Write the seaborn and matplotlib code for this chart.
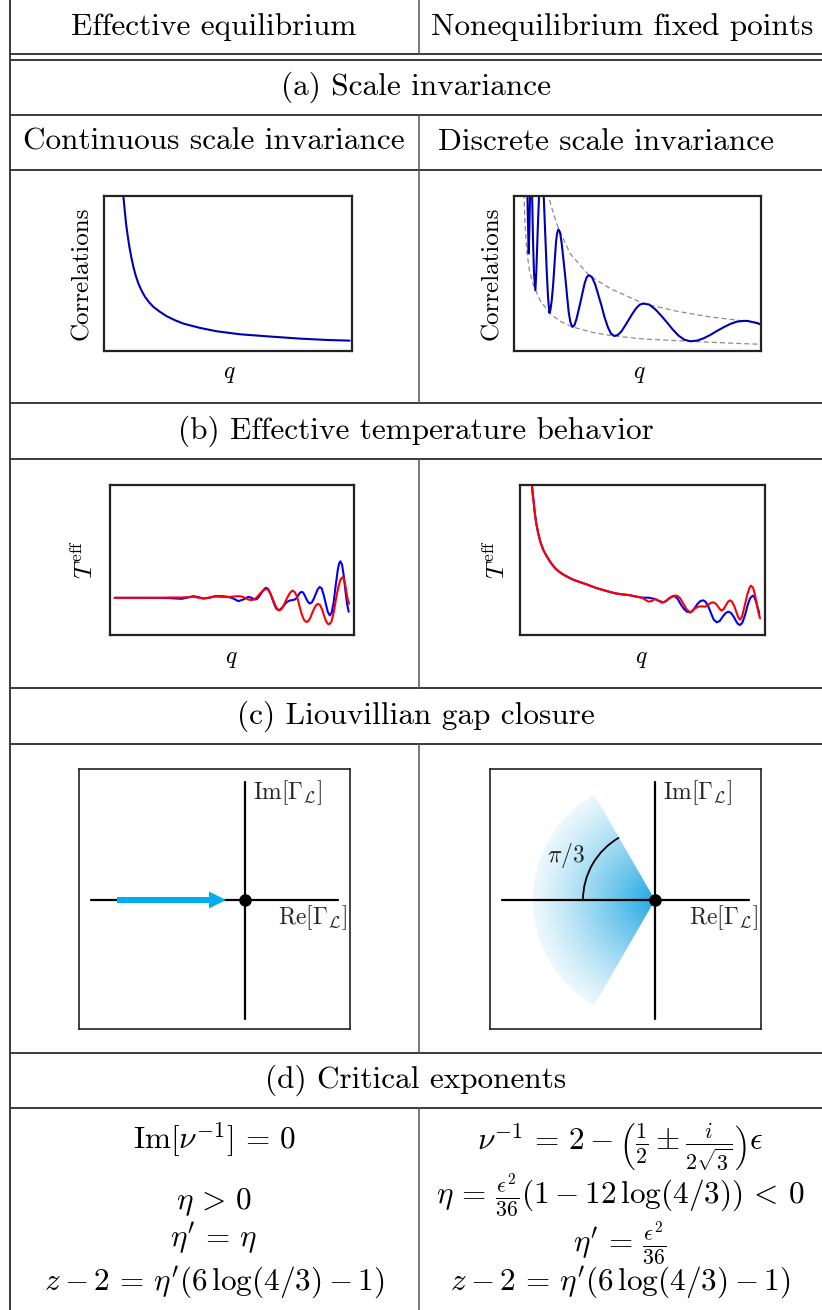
import numpy as np
import matplotlib
matplotlib.use("Agg")
import matplotlib.pyplot as plt
import seaborn as sns
from matplotlib.lines import Line2D
from matplotlib.patches import Wedge, Arc

sns.set_style("white")
plt.rcParams["font.family"] = ["cmr10", "DejaVu Serif"]
plt.rcParams["mathtext.fontset"] = "cm"
plt.rcParams["axes.formatter.use_mathtext"] = True

W, H = 822, 1310

# ---- data (arbitrary units) ----
# (a) left: continuous scale invariance, power-law decay
q_cont = [58, 62, 66, 71, 76, 82, 88, 95, 103, 113, 123, 135, 148, 168, 188,
          213, 238, 288, 338, 408, 488, 588, 668, 736]
corr_cont = [464, 422, 382, 345, 312, 280, 252, 226, 202, 180, 162, 146, 132,
             117, 104, 92, 82, 69, 59, 50, 44, 37, 33, 31]

# (a) right: discrete scale invariance, log-periodic oscillations
q_disc = [38, 41, 44, 46, 48, 51, 54, 57, 60, 64, 67, 71, 75, 82, 89, 94, 98,
          102, 106, 109, 113, 117, 120, 123, 126, 129, 133, 138, 143, 148, 154,
          159, 164, 169, 175, 181, 187, 193, 200, 206, 212, 218, 224, 233, 243,
          252, 262, 271, 281, 290, 300, 311, 322, 333, 344, 355, 366, 377, 388,
          405, 423, 440, 458, 475, 493, 510, 528, 548, 568, 588, 608, 628, 648,
          668, 688, 700, 713, 726, 738]
corr_disc = [600, 420, 292, 360, 470, 620, 480, 330, 230, 182, 240, 360, 464,
             600, 464, 340, 240, 160, 114, 122, 151, 195, 239, 285, 327, 352,
             364, 355, 321, 275, 218, 165, 115, 86, 72, 77, 95, 120, 150, 178,
             204, 221, 227, 222, 200, 170, 136, 102, 72, 53, 45, 48, 59, 76, 94,
             112, 128, 139, 142, 139, 125, 107, 86, 65, 46, 34, 29, 31, 38, 48,
             60, 71, 81, 88, 90, 90, 87, 84, 80]
q_upper = [98, 103, 118, 133, 168, 224, 288, 388, 488, 588, 688, 740]
env_upper = [500, 464, 412, 367, 292, 227, 187, 142, 119, 102, 90, 84]
q_lower = [29, 30, 33, 38, 46, 58, 78, 106, 138, 175, 238, 300, 388, 528, 638, 740]
env_lower = [520, 464, 382, 302, 242, 197, 152, 114, 89, 72, 55, 45, 36, 29, 24, 20]

# (b) left: effective temperature, equilibrium-like
q_tl_blue = [14, 60, 100, 140, 180, 198, 216, 234, 251, 266, 281, 298, 316, 336,
             356, 371, 386, 401, 416, 426, 436, 441, 448, 455, 462, 467, 471, 476,
             482, 488, 494, 500, 506, 512, 519, 526, 533, 541, 548, 556, 561, 566,
             571, 576, 581, 586, 591, 596, 601, 607, 613, 619, 625, 631, 637, 643,
             649, 655, 661, 667, 673, 679, 685, 689, 693, 698, 703, 708, 713, 718]
T_tl_blue = [112, 112, 112, 112, 111, 110, 109, 113, 117, 114, 110, 112, 117, 117,
             115, 110, 102, 107, 115, 112, 107, 108, 115, 126, 136, 141, 142, 138,
             126, 110, 93, 80, 75, 77, 84, 93, 100, 104, 105, 107, 111, 119, 127,
             130, 128, 119, 108, 99, 95, 98, 109, 124, 138, 145, 140, 120, 95, 70,
             59, 68, 100, 150, 195, 215, 222, 212, 180, 135, 95, 70]
q_tl_red = [14, 60, 100, 140, 180, 216, 251, 281, 316, 356, 371, 386, 396, 406,
            416, 426, 435, 444, 453, 462, 471, 477, 484, 490, 497, 503, 509, 516,
            523, 529, 536, 543, 549, 556, 563, 570, 577, 584, 591, 597, 603, 609,
            615, 621, 626, 632, 638, 644, 650, 655, 659, 666, 673, 680, 687, 693,
            699, 703, 707, 711, 715, 719]
T_tl_red = [112, 112, 112, 112, 113, 113, 115, 110, 116, 114, 116, 117, 116, 112,
            107, 105, 108, 116, 127, 135, 139, 135, 122, 107, 90, 78, 74, 78, 90,
            104, 118, 129, 134, 129, 115, 87, 62, 45, 39, 42, 53, 68, 82, 91, 94,
            90, 77, 58, 42, 34, 32, 40, 68, 110, 145, 166, 174, 170, 155, 130,
            108, 94]

# (b) right: effective temperature, nonequilibrium
q_tr_common = [35, 36, 38, 41, 44, 48, 54, 61, 70, 81, 93, 106, 120, 136, 155,
               176, 200, 226, 256, 286, 306, 326, 346, 366]
T_tr_common = [470, 452, 425, 400, 370, 340, 308, 280, 255, 235, 216, 200, 188,
               178, 168, 160, 152, 142, 133, 125, 122, 120, 116, 112]
q_tr_blue = q_tr_common + [386, 406, 418, 431, 440, 449, 458, 466, 474, 483, 492,
                           501, 511, 518, 526, 534, 542, 551, 558, 566, 574, 582,
                           591, 600, 609, 618, 626, 634, 642, 650, 655, 661, 668,
                           676, 684, 691, 699, 704, 709, 714, 719]
T_tr_blue = T_tr_common + [112, 108, 102, 98, 103, 111, 116, 116, 108, 92, 79,
                           70, 68, 72, 83, 94, 102, 104, 99, 85, 65, 46, 38, 42,
                           55, 66, 70, 66, 55, 40, 33, 30, 37, 60, 90, 110, 118,
                           114, 100, 82, 65]
q_tr_red = q_tr_common + [386, 396, 406, 416, 426, 436, 446, 456, 464, 471, 480,
                          490, 500, 511, 518, 526, 536, 546, 556, 566, 574, 581,
                          588, 595, 601, 606, 612, 619, 625, 631, 637, 644, 651,
                          656, 661, 667, 675, 683, 690, 694, 700, 706, 712, 717, 721]
T_tr_red = T_tr_common + [100, 102, 108, 103, 97, 100, 108, 115, 118, 118, 112,
                          95, 78, 68, 72, 80, 85, 86, 85, 91, 97, 98, 94, 85, 77,
                          73, 78, 90, 100, 104, 100, 86, 66, 52, 46, 56, 88, 122,
                          143, 148, 142, 120, 90, 65, 50]

# (c) Liouvillian gap closure sketch (panel units)
origin = (166, 129)
re_axis = [12, 259]
im_axis = [10, 247]
gap_arrow = [38, 147]
wedge_half_angle = 60
wedge_radius = 123
angle_radius = 72

# ---- helpers ----
def add_hline(y, x0=10, x1=W, color="#3a3a3a", lw=1.4):
    fig.add_artist(Line2D([x0 / W, x1 / W], [1 - y / H, 1 - y / H],
                          transform=fig.transFigure, color=color, lw=lw))

def add_vline(x, y0, y1, color="#555555", lw=1.1):
    fig.add_artist(Line2D([x / W, x / W], [1 - y0 / H, 1 - y1 / H],
                          transform=fig.transFigure, color=color, lw=lw))

def put_text(x, y, s, size=22.5, **kw):
    kw.setdefault("ha", "center")
    kw.setdefault("va", "center")
    fig.text(x / W, 1 - y / H, s, fontsize=size, color="black", **kw)

def add_box(x0, y0, x1, y1, lw=1.6):
    ax = fig.add_axes([x0 / W, 1 - y1 / H, (x1 - x0) / W, (y1 - y0) / H])
    ax.set_xticks([])
    ax.set_yticks([])
    for s in ax.spines.values():
        s.set_visible(True)
        s.set_color("#222222")
        s.set_linewidth(lw)
    return ax


fig = plt.figure(figsize=(W / 100, H / 100), dpi=100)

# ---- table grid ----
for y in [54, 60, 115, 170, 403, 459, 688, 744, 1053, 1108]:
    add_hline(y)
add_vline(10, 0, H, color="#3a3a3a", lw=1.4)
for y0, y1 in [(0, 54), (115, 403), (459, 688), (744, 1053), (1108, H)]:
    add_vline(419, y0, y1)

# ---- table text ----
put_text(214, 27, "Effective equilibrium")
put_text(622, 27, "Nonequilibrium fixed points")
put_text(416, 87, "(a) Scale invariance")
put_text(214, 142, "Continuous scale invariance")
put_text(606, 142, "Discrete scale invariance")
put_text(416, 431, "(b) Effective temperature behavior")
put_text(416, 716, "(c) Liouvillian gap closure")
put_text(416, 1080, "(d) Critical exponents")

left_exp = [r"$\mathrm{Im}[\nu^{-1}]\,=\,0$", r"$\eta\,>\,0$", r"$\eta'\,=\,\eta$",
            r"$z - 2\,=\,\eta'(6\,\log(4/3) - 1)$"]
right_exp = [r"$\nu^{-1}\,=\,2 - \left(\frac{1}{2} \pm \frac{i}{2\sqrt{3}}\right)\epsilon$",
             r"$\eta\,=\,\frac{\epsilon^2}{36}(1 - 12\,\log(4/3))\,<\,0$",
             r"$\eta'\,=\,\frac{\epsilon^2}{36}$",
             r"$z - 2\,=\,\eta'(6\,\log(4/3) - 1)$"]
for yl, yr, sl, sr in zip([1150, 1209, 1247, 1291], [1150, 1203, 1251, 1291],
                          left_exp, right_exp):
    put_text(214, yl, sl, va="baseline")
    put_text(620, yr, sr, va="baseline")

# ---- (a) correlations ----
blue_dark = "#0000b0"
ax = add_box(104, 196, 352, 351)
sns.lineplot(x=q_cont, y=corr_cont, ax=ax, color=blue_dark, lw=1.5)
ax.set(xlim=(0, 743), ylim=(0, 464), xlabel="", ylabel="")

ax = add_box(514, 196, 761, 351)
sns.lineplot(x=q_upper, y=env_upper, ax=ax, color="#8c8c8c", lw=0.9, linestyle=(0, (4, 2.5)))
sns.lineplot(x=q_lower, y=env_lower, ax=ax, color="#8c8c8c", lw=0.9, linestyle=(0, (4, 2.5)))
sns.lineplot(x=q_disc, y=corr_disc, ax=ax, color=blue_dark, lw=1.5)
ax.set(xlim=(0, 740), ylim=(0, 464), xlabel="", ylabel="")

for xc in [82, 492]:
    put_text(xc, 273, "Correlations", size=18, rotation=90)
for xc in [229, 639]:
    put_text(xc, 374, r"$q$", size=17)

# ---- (b) effective temperature ----
blue, red = "#0000ff", "#ff0000"
ax = add_box(110, 485, 354, 635)
sns.lineplot(x=q_tl_blue, y=T_tl_blue, ax=ax, color=blue, lw=1.5)
sns.lineplot(x=q_tl_red, y=T_tl_red, ax=ax, color=red, lw=1.5)
ax.set(xlim=(0, 734), ylim=(0, 452), xlabel="", ylabel="")

ax = add_box(520, 485, 765, 635)
sns.lineplot(x=q_tr_blue, y=T_tr_blue, ax=ax, color=blue, lw=1.5)
sns.lineplot(x=q_tr_red, y=T_tr_red, ax=ax, color=red, lw=1.5)
ax.set(xlim=(0, 736), ylim=(0, 450), xlabel="", ylabel="")

for xc in [85, 497]:
    put_text(xc, 560, r"$T^{\mathrm{eff}}$", size=18, rotation=90)
for xc in [231, 641]:
    put_text(xc, 659, r"$q$", size=17)

# ---- (c) Liouvillian gap ----
cyan = "#00aeef"
for x0, kind in [(79, "arrow"), (490, "wedge")]:
    ax = add_box(x0, 769, x0 + 271, 1029, lw=1.2)
    ax.set(xlim=(0, 271), ylim=(0, 260))
    ox, oy = origin
    if kind == "wedge":
        ox = 165
        wedge = Wedge((ox, oy), wedge_radius, 180 - wedge_half_angle,
                      180 + wedge_half_angle, facecolor="none", edgecolor="none")
        ax.add_patch(wedge)
        gx, gy = np.meshgrid(np.linspace(0, 271, 400), np.linspace(0, 260, 400))
        r = np.hypot(gx - ox, gy - oy) / wedge_radius
        rgba = np.zeros(gx.shape + (4,))
        rgba[..., 0], rgba[..., 1], rgba[..., 2] = 0.13, 0.66, 0.89
        rgba[..., 3] = np.clip(0.08 + 0.92 * (1 - r) ** 1.2, 0, 1)
        img = ax.imshow(rgba, extent=(0, 271, 0, 260), origin="lower",
                        interpolation="bilinear", aspect="auto", zorder=1)
        img.set_clip_path(wedge)
        ax.add_patch(Arc((ox, oy), 2 * angle_radius, 2 * angle_radius,
                         theta1=180 - wedge_half_angle, theta2=180,
                         color="black", lw=1.3, zorder=3))
        ax.text(76, 174, r"$\pi/3$", fontsize=17, ha="center", va="center")
    ax.plot(re_axis, [oy, oy], color="black", lw=1.6, zorder=2)
    ax.plot([ox, ox], im_axis, color="black", lw=1.6, zorder=2)
    ax.plot([ox], [oy], "o", color="black", ms=8, zorder=4)
    if kind == "arrow":
        ax.arrow(gap_arrow[0], oy, gap_arrow[1] - gap_arrow[0], 0, width=6,
                 head_width=17, head_length=17, length_includes_head=True,
                 color=cyan, lw=0, zorder=3)
    ax.text(ox + 8, 236, r"$\mathrm{Im}[\Gamma_{\mathcal{L}}]$", fontsize=17,
            ha="left", va="center")
    ax.text(268, 111, r"$\mathrm{Re}[\Gamma_{\mathcal{L}}]$", fontsize=17,
            ha="right", va="center")

fig.savefig("out.png", dpi=100)
